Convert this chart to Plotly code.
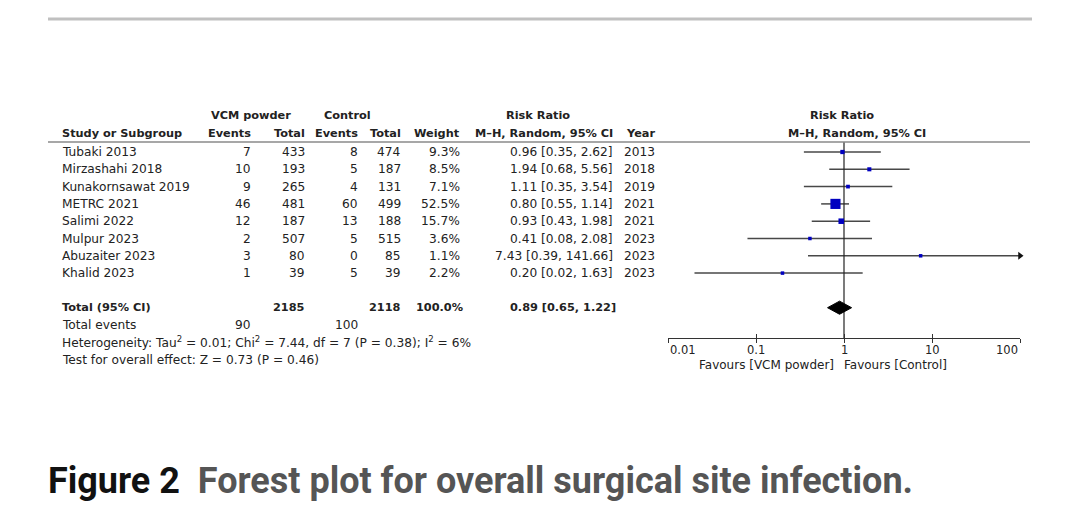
import numpy as np
import plotly.graph_objects as go

# study level data
studies = ["Tubaki 2013", "Mirzashahi 2018", "Kunakornsawat 2019", "METRC 2021",
           "Salimi 2022", "Mulpur 2023", "Abuzaiter 2023", "Khalid 2023"]
vcm_events = [7, 10, 9, 46, 12, 2, 3, 1]
vcm_total = [433, 193, 265, 481, 187, 507, 80, 39]
ctl_events = [8, 5, 4, 60, 13, 5, 0, 5]
ctl_total = [474, 187, 131, 499, 188, 515, 85, 39]
weight = [9.3, 8.5, 7.1, 52.5, 15.7, 3.6, 1.1, 2.2]
rr = [0.96, 1.94, 1.11, 0.80, 0.93, 0.41, 7.43, 0.20]
rr_lo = [0.35, 0.68, 0.35, 0.55, 0.43, 0.08, 0.39, 0.02]
rr_hi = [2.62, 5.56, 3.54, 1.14, 1.98, 2.08, 141.66, 1.63]
years = [2013, 2018, 2019, 2021, 2021, 2023, 2023, 2023]

# pooled result
total_rr, total_lo, total_hi = 0.89, 0.65, 1.22
total_vcm, total_ctl = 2185, 2118
events_vcm, events_ctl = 90, 100
het_text = ("Heterogeneity: Tau<sup>2</sup> = 0.01; Chi<sup>2</sup> = 7.44, df = 7 "
            "(P = 0.38); I<sup>2</sup> = 6%")
test_text = "Test for overall effect: Z = 0.73 (P = 0.46)"

axis_ticks = [0.01, 0.1, 1, 10, 100]
tick_labels = ["0.01", "0.1", "1", "10", "100"]

caption_a = "Figure 2"
caption_b = "Forest plot for overall surgical site infection."

W, H = 1080, 532
ROW0, ROW_H = 152, 17.3        # pixel centre of first row, row pitch
FONT = "DejaVu Sans"
FS = 12.2       # body text
FB = 11.3       # bold header text
TXT = "#222222"


def px(x):
    return x / W


def row_of(ypix):
    return (ypix - ROW0) / ROW_H


ann = []


def txt(x, y, s, anchor="right", size=FS, bold=False, color=TXT, font=FONT):
    if bold:
        s = "<b>" + s + "</b>"
    ann.append(dict(xref="paper", yref="y", x=px(x), y=y, text=s, xanchor=anchor,
                    yanchor="middle", showarrow=False,
                    font=dict(family=font, size=size, color=color)))


# table headers
h1, h2 = row_of(115), row_of(133)
txt(251, h1, "VCM powder", "center", bold=True, size=FB)
txt(347, h1, "Control", "center", bold=True, size=FB)
txt(538, h1, "Risk Ratio", "center", bold=True, size=FB)
txt(842, h1, "Risk Ratio", "center", bold=True, size=FB)
txt(60, h2, "Study or Subgroup", "left", bold=True, size=FB)
txt(253, h2, "Events", bold=True, size=FB)
txt(307, h2, "Total", bold=True, size=FB)
txt(360, h2, "Events", bold=True, size=FB)
txt(403, h2, "Total", bold=True, size=FB)
txt(462, h2, "Weight", bold=True, size=FB)
txt(615, h2, "M\u2013H, Random, 95% CI", bold=True, size=FB)
txt(657, h2, "Year", bold=True, size=FB)
txt(857, h2, "M\u2013H, Random, 95% CI", "center", bold=True, size=FB)

# study rows
for i, name in enumerate(studies):
    txt(60, i, name, "left")
    txt(253, i, str(vcm_events[i]))
    txt(307, i, str(vcm_total[i]))
    txt(360, i, str(ctl_events[i]))
    txt(403, i, str(ctl_total[i]))
    txt(462, i, f"{weight[i]:.1f}%")
    txt(615, i, f"{rr[i]:.2f} [{rr_lo[i]:.2f}, {rr_hi[i]:.2f}]")
    txt(657, i, str(years[i]))

n = len(studies)
r_tot = n + 1
txt(60, r_tot, "Total (95% CI)", "left", bold=True, size=FB)
txt(307, r_tot, str(total_vcm), bold=True, size=FB)
txt(403, r_tot, str(total_ctl), bold=True, size=FB)
txt(465, r_tot, f"{sum(weight):.1f}%", bold=True, size=FB)
txt(618, r_tot, f"{total_rr:.2f} [{total_lo:.2f}, {total_hi:.2f}]", bold=True, size=FB)
txt(60, r_tot + 1, "Total events", "left")
txt(253, r_tot + 1, str(events_vcm))
txt(360, r_tot + 1, str(events_ctl))
txt(60, r_tot + 2, het_text, "left")
txt(60, r_tot + 3, test_text, "left")

# axis tick labels and favours text
r_tick, r_fav = row_of(350), row_of(365)
for k, (t, lab) in enumerate(zip(axis_ticks, tick_labels)):
    anchor = "left" if k == 0 else ("right" if k == len(axis_ticks) - 1 else "center")
    ann.append(dict(xref="x", yref="y", x=np.log10(t), y=r_tick, text=lab,
                    xanchor=anchor, yanchor="middle", showarrow=False,
                    font=dict(family=FONT, size=11.5, color=TXT)))
txt(836, r_fav, "Favours [VCM powder]", "right", size=12)
txt(842, r_fav, "Favours [Control]", "left", size=12)

# caption
ann.append(dict(xref="paper", yref="paper", x=px(46), y=1 - 481 / H,
                xanchor="left", yanchor="middle", showarrow=False,
                text=f"<b>{caption_a}</b>&nbsp;&nbsp;<span style='color:#555555'><b>{caption_b}</b></span>",
                font=dict(family="Roboto", size=36, color="#111111")))

fig = go.Figure()

# confidence interval whiskers (clipped to the axis range)
wx, wy = [], []
for i in range(n):
    wx += [rr_lo[i], min(rr_hi[i], axis_ticks[-1]), None]
    wy += [i, i, None]
fig.add_trace(go.Scatter(x=wx, y=wy, mode="lines", line=dict(color="#484848", width=1.5),
                         hoverinfo="skip"))

# arrows where the CI runs off the scale
ax_ = [axis_ticks[-1] for i in range(n) if rr_hi[i] > axis_ticks[-1]]
ay_ = [i for i in range(n) if rr_hi[i] > axis_ticks[-1]]
fig.add_trace(go.Scatter(x=ax_, y=ay_, mode="markers", cliponaxis=False,
                         marker=dict(symbol="triangle-right", size=7, color="#111111")))

# line of no effect
fig.add_trace(go.Scatter(x=[1, 1], y=[row_of(142), row_of(338)], mode="lines",
                         line=dict(color="#222222", width=1.2), hoverinfo="skip"))

# weighted squares
sizes = [max(3.5, 1.4 * np.sqrt(w)) for w in weight]
fig.add_trace(go.Scatter(x=rr, y=list(range(n)), mode="markers", opacity=1,
                         marker=dict(symbol="square", size=sizes, color="#0000c0",
                                     opacity=1, line=dict(width=0))))

# pooled diamond
dh = 0.38
fig.add_trace(go.Scatter(x=[total_lo, total_rr, total_hi, total_rr, total_lo],
                         y=[r_tot, r_tot - dh, r_tot, r_tot + dh, r_tot],
                         mode="lines", fill="toself", fillcolor="#000000",
                         line=dict(color="#000000", width=1)))

# invisible trace so the overlaid axis (upward tick halves) is drawn
fig.add_trace(go.Scatter(x=[1], y=[r_tot], xaxis="x2", mode="markers",
                         marker=dict(size=0.1, opacity=0), hoverinfo="skip"))

shapes = [
    dict(type="line", xref="paper", yref="paper", x0=px(48), x1=px(1032),
         y0=1 - 19 / H, y1=1 - 19 / H, line=dict(color="#c0c0c0", width=3)),
    dict(type="line", xref="paper", yref="paper", x0=px(48), x1=px(1030),
         y0=1 - 142 / H, y1=1 - 142 / H, line=dict(color="#8a8a8a", width=1.5)),
]

axis_common = dict(type="log", range=[-2, 2], domain=[px(668), px(1020)],
                   anchor="free", position=1 - 338 / H, tickvals=axis_ticks,
                   ticklen=4, tickcolor="#333333", tickwidth=1, showticklabels=False,
                   showgrid=False, zeroline=False, fixedrange=True)

fig.update_layout(
    width=W, height=H, margin=dict(l=0, r=0, t=0, b=0),
    paper_bgcolor="white", plot_bgcolor="rgba(0,0,0,0)", showlegend=False,
    annotations=ann, shapes=shapes,
    xaxis=dict(**axis_common, ticks="outside", showline=True,
               linecolor="#333333", linewidth=1),
    xaxis2=dict(**axis_common, ticks="inside", showline=False, overlaying="x"),
    yaxis=dict(range=[row_of(H), row_of(0)], domain=[0, 1], visible=False,
               showgrid=False, zeroline=False, fixedrange=True),
)

fig.write_html("out.html", config={"displayModeBar": False},
               post_script="document.body.style.margin='0px';")
